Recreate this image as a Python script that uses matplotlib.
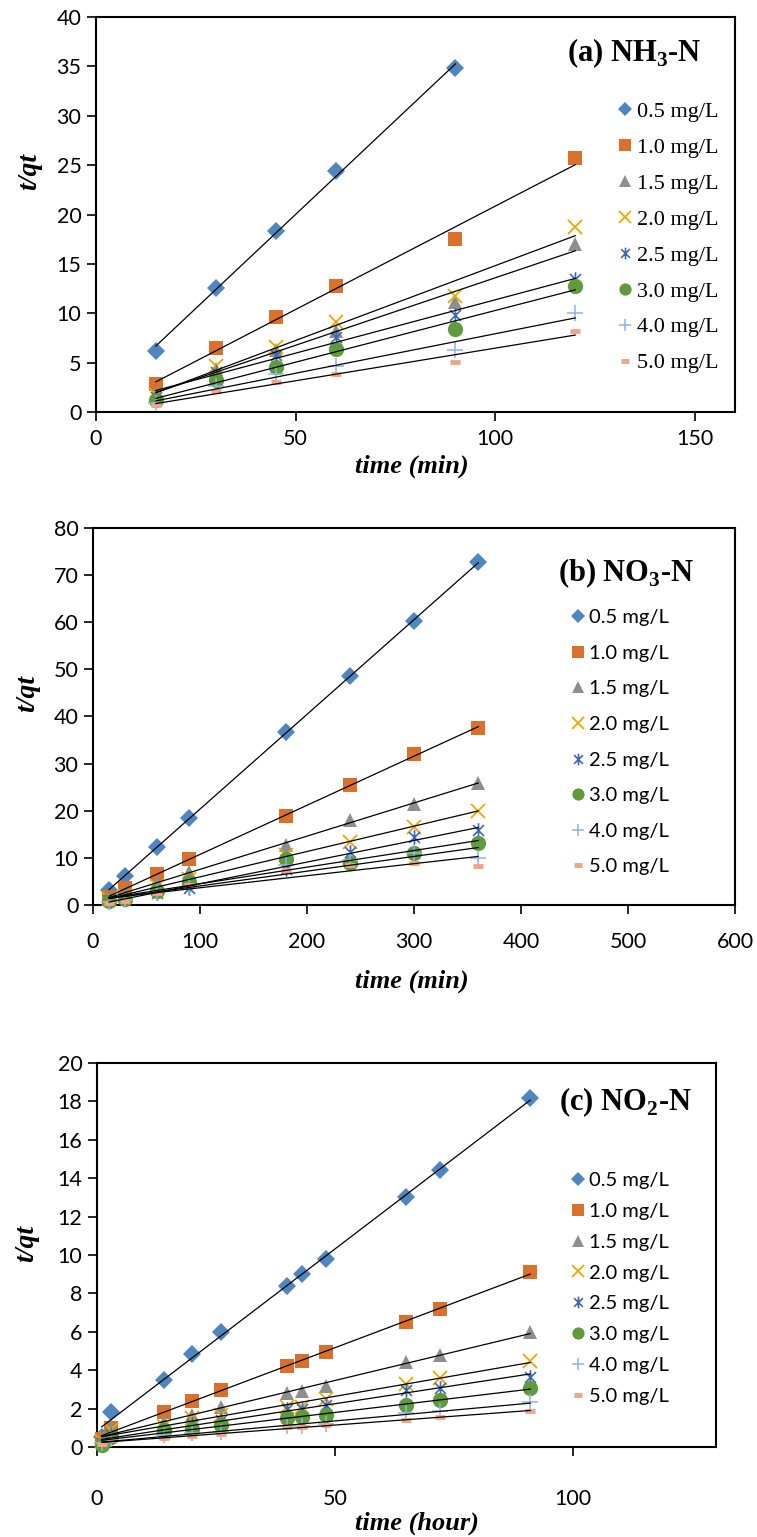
import numpy as np
import matplotlib.pyplot as plt
from matplotlib.path import Path

plt.rcParams["mathtext.fontset"] = "custom"
plt.rcParams["mathtext.rm"] = "Liberation Serif:bold"
plt.rcParams["mathtext.bf"] = "Liberation Serif:bold"

TICK_FONT = "Lato"
SERIF = "Liberation Serif"

LABELS = ["0.5 mg/L", "1.0 mg/L", "1.5 mg/L", "2.0 mg/L",
          "2.5 mg/L", "3.0 mg/L", "4.0 mg/L", "5.0 mg/L"]

# -- (a) NH3-N, time in min ---------------------------------------------------
A_TIME = [15, 30, 45, 60, 90, 120]
A_05 = [6.2, 12.6, 18.3, 24.4, 34.8]          # no reading at 120 min
A_10 = [2.8, 6.5, 9.6, 12.8, 17.5, 25.7]
A_15 = [1.8, 4.4, 6.3, 8.2, 11.1, 17.0]
A_20 = [1.7, 4.7, 6.6, 9.1, 11.8, 18.7]
A_25 = [1.5, 4.1, 5.8, 7.6, 9.8, 13.5]
A_30 = [1.2, 3.2, 4.6, 6.4, 8.4, 12.8]
A_40 = [0.9, 2.6, 3.9, 4.7, 6.3, 10.0]
A_50 = [0.7, 2.1, 3.0, 3.9, 5.1, 8.2]

# -- (b) NO3-N, time in min ---------------------------------------------------
B_TIME = [15, 30, 60, 90, 180, 240, 300, 360]
B_05 = [3.2, 6.2, 12.3, 18.5, 36.6, 48.5, 60.3, 72.7]
B_10 = [1.8, 3.5, 6.5, 9.8, 18.8, 25.5, 32.0, 37.5]
B_15 = [1.5, 2.5, 4.9, 7.0, 12.8, 18.0, 21.5, 25.8]
B_20 = [1.2, 2.0, 4.0, 5.6, 10.6, 13.4, 16.5, 20.0]
B_25 = [1.0, 1.5, 2.5, 3.6, 7.6, 11.2, 14.5, 16.0]
B_30 = [0.8, 1.2, 3.0, 4.9, 9.8, 8.9, 11.0, 13.2]
B_40 = [0.6, 1.0, 2.8, 3.8, 8.5, 9.5, 11.0, 10.0]
B_50 = [0.5, 0.8, 2.5, 4.3, 7.5, 8.5, 9.0, 8.3]

# -- (c) NO2-N, time in hour --------------------------------------------------
C_TIME = [1, 3, 14, 20, 26, 40, 43, 48, 65, 72, 91]
C_05 = [0.5, 1.8, 3.5, 4.85, 6.0, 8.4, 9.0, 9.8, 13.0, 14.4, 18.2]
C_10 = [0.4, 1.0, 1.8, 2.4, 2.95, 4.2, 4.5, 4.95, 6.5, 7.2, 9.1]
C_15 = [0.3, 1.05, 1.3, 1.67, 2.1, 2.8, 2.9, 3.2, 4.4, 4.8, 6.0]
C_20 = [0.3, 0.9, 1.1, 1.5, 1.65, 2.1, 2.1, 2.5, 3.3, 3.6, 4.5]
C_25 = [0.2, 0.6, 0.7, 1.2, 1.4, 2.0, 2.0, 2.2, 2.95, 3.05, 3.65]
C_30 = [0.1, 0.5, 0.9, 0.95, 1.15, 1.5, 1.55, 1.65, 2.2, 2.45, 3.05]
C_40 = [0.2, 0.4, 0.6, 0.7, 0.8, 1.1, 1.1, 1.2, 1.75, 1.85, 2.35]
C_50 = [0.15, 0.35, 0.45, 0.55, 0.65, 1.05, 1.05, 1.15, 1.4, 1.55, 1.85]

# Excel-like asterisk: vertical bar plus an X
ASTERISK = Path([(0, -1), (0, 1), (-0.75, -0.75), (0.75, 0.75),
                 (-0.75, 0.75), (0.75, -0.75)],
                [Path.MOVETO, Path.LINETO] * 3)

STYLES = [
    dict(marker="D", color="#4F86C0", ms=9, mew=0),
    dict(marker="s", color="#D9702B", ms=10, mew=0),
    dict(marker="^", color="#8E8E8E", ms=10.5, mew=0),
    dict(marker="x", color="#E8A900", ms=10, mew=1.3),
    dict(marker=ASTERISK, color="#4168B8", ms=10.5, mew=1.2),
    dict(marker="o", color="#5F9B3C", ms=11, mew=0),
    dict(marker="+", color="#8EB4E3", ms=11.5, mew=1.1),
    dict(marker="_", color="#F2A487", ms=6.5, mew=3.5),
]

PANELS = [
    dict(pos=[0.1268, 0.7319, 0.8441, 0.2570], time=A_TIME,
         series=[A_05, A_10, A_15, A_20, A_25, A_30, A_40, A_50],
         xlim=(0, 160), xticks=[0, 50, 100, 150], ylim=(0, 40), ystep=5,
         title=r"(a) NH$_{3}$-N", title_xy=(0.842, 0.909),
         xlabel="time (min)", xlab_xy=(0.495, -0.108), ylab_xy=(-0.084, 0.61),
         xpad=6, leg_xy=(0.817, 0.786), leg_font=dict(family=SERIF, size=16),
         leg_space=0.69),
    dict(pos=[0.1229, 0.4112, 0.8481, 0.2453], time=B_TIME,
         series=[B_05, B_10, B_15, B_20, B_25, B_30, B_40, B_50],
         xlim=(0, 600), xticks=list(range(0, 601, 100)), ylim=(0, 80), ystep=10,
         title=r"(b) NO$_{3}$-N", title_xy=(0.830, 0.881),
         xlabel="time (min)", xlab_xy=(0.497, -0.172), ylab_xy=(-0.083, 0.56),
         xpad=13, leg_xy=(0.746, 0.785), leg_font=dict(family=TICK_FONT, size=14.5),
         leg_space=0.92),
    dict(pos=[0.1281, 0.0586, 0.8177, 0.2498], time=C_TIME,
         series=[C_05, C_10, C_15, C_20, C_25, C_30, C_40, C_50],
         xlim=(0, 130), xticks=[0, 50, 100], ylim=(0, 20), ystep=2,
         title=r"(c) NO$_{2}$-N", title_xy=(0.853, 0.898),
         xlabel="time (hour)", xlab_xy=(0.517, -0.168), ylab_xy=(-0.093, 0.53),
         xpad=24, leg_xy=(0.767, 0.716), leg_font=dict(family=TICK_FONT, size=14.5),
         leg_space=0.68),
]

fig = plt.figure(figsize=(7.57, 15.37), dpi=100)

for p in PANELS:
    ax = fig.add_axes(p["pos"])
    handles = []
    for vals, label, st in zip(p["series"], LABELS, STYLES):
        x = np.array(p["time"][:len(vals)], dtype=float)
        y = np.array(vals, dtype=float)
        h, = ax.plot(x, y, linestyle="none", marker=st["marker"],
                     color=st["color"], markersize=st["ms"],
                     markeredgewidth=st["mew"], label=label,
                     clip_on=False, zorder=3)
        handles.append(h)
        # linear trendline over the data range
        k, b = np.polyfit(x, y, 1)
        xs = np.array([x.min(), x.max()])
        ax.plot(xs, k * xs + b, color="black", linewidth=0.9, zorder=4)

    ax.set_xlim(*p["xlim"])
    ax.set_ylim(*p["ylim"])
    ax.set_xticks(p["xticks"])
    ax.set_yticks(np.arange(p["ylim"][0], p["ylim"][1] + 0.1, p["ystep"]))
    for s in ax.spines.values():
        s.set_linewidth(1.5)
    ax.tick_params(direction="out", length=6.5, width=1.2, labelsize=15.5)
    ax.tick_params(axis="x", pad=p["xpad"])
    ax.tick_params(axis="y", pad=4)
    for t in ax.get_xticklabels() + ax.get_yticklabels():
        t.set_fontfamily(TICK_FONT)

    ax.set_xlabel(p["xlabel"], family=SERIF, fontsize=19,
                  fontweight="bold", fontstyle="italic")
    ax.set_ylabel("t/qt", family=SERIF, fontsize=20,
                  fontweight="bold", fontstyle="italic")
    ax.xaxis.set_label_coords(*p["xlab_xy"])
    ax.yaxis.set_label_coords(*p["ylab_xy"])

    ax.text(*p["title_xy"], p["title"], transform=ax.transAxes,
            ha="center", va="center", family=SERIF, fontsize=22,
            fontweight="bold")

    ax.legend(handles=handles, loc="upper left", bbox_to_anchor=p["leg_xy"],
              frameon=False, borderpad=0, borderaxespad=0, numpoints=1,
              handlelength=0.6, handletextpad=0.25, markerscale=0.8,
              labelspacing=p["leg_space"], prop=p["leg_font"])

fig.savefig("out.png", dpi=100)
